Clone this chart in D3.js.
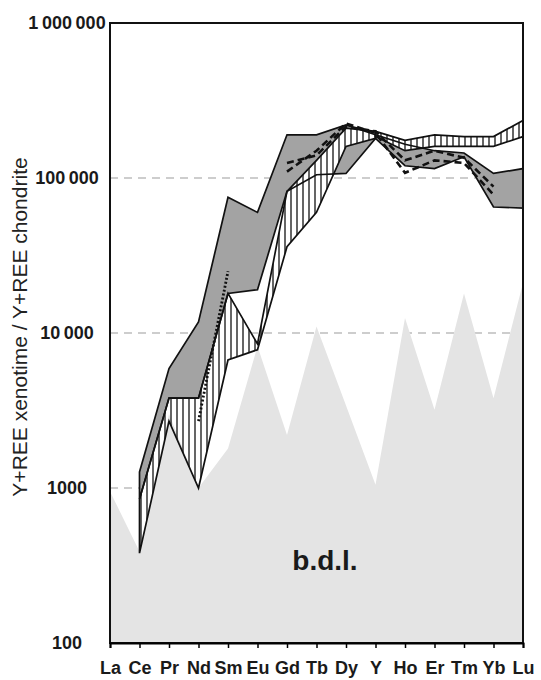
<!DOCTYPE html>
<html>
<head>
<meta charset="utf-8">
<script src="https://cdn.jsdelivr.net/npm/d3@7"></script>
<style>
  body { margin: 0; background: #fff; }
  text { font-family: "Liberation Sans", Arial, sans-serif; }
</style>
</head>
<body>
<script>
var width = 541;
var height = 680;

var elements = ['La', 'Ce', 'Pr', 'Nd', 'Sm', 'Eu', 'Gd', 'Tb', 'Dy', 'Y', 'Ho', 'Er', 'Tm', 'Yb', 'Lu'];
var yTicks = [100, 1000, 10000, 100000, 1000000];

// detection limit (b.d.l.)
var bdl = [950, 390, 3000, 1000, 1800, 8200, 2200, 11000, 3400, 1050, 12500, 3200, 18000, 3800, 21000];

// grey field
var greyUpper = [null, 1270, 5900, 11800, 75000, 60000, 190000, 190000, 220000, 190000, 165000, 150000, 145000, 107000, 115000];
var greyLower = [null, 850, 3800, 3800, 18000, 19000, 82000, 105000, 107000, 180000, 120000, 115000, 137000, 65000, 64000];

// hatched field, light REE to Y
var hatchUpper = [null, 850, 3800, 3800, 18000, 8500, 82000, 130000, 210000, 200000, null, null, null, null, null];
var hatchLower = [null, 380, 2700, 1000, 6700, 7800, 36000, 60000, 160000, 180000, null, null, null, null, null];

// hatched field, heavy REE
var heavyUpper = [null, null, null, null, null, null, null, null, null, 200000, 175000, 190000, 185000, 185000, 235000];
var heavyLower = [null, null, null, null, null, null, null, null, null, 185000, 150000, 160000, 160000, 160000, 185000];

// single analyses
var dashA = [null, null, null, null, null, null, 110000, 150000, 225000, 195000, 108000, 130000, 125000, 78000, null];
var dashB = [null, null, null, null, null, null, 125000, 140000, 215000, 200000, 130000, 150000, 135000, 88000, null];
var dotted = [null, null, null, 2700, 25000, null, null, null, null, null, null, null, null, null, null];

var x = d3.scalePoint()
    .domain(elements)
    .range([110, 523]);

var y = d3.scaleLog()
    .domain([100, 1000000])
    .range([643, 23]);

var svg = d3.select('body')
    .append('svg')
    .attr('width', width)
    .attr('height', height);

var defs = svg.append('defs');
defs.append('pattern')
    .attr('id', 'vhatch')
    .attr('patternUnits', 'userSpaceOnUse')
    .attr('width', 6)
    .attr('height', 10)
    .append('line')
    .attr('x1', 3).attr('y1', 0)
    .attr('x2', 3).attr('y2', 10)
    .attr('stroke', '#111')
    .attr('stroke-width', 1.3);

function rows(up, low) {
    return elements.map(function(e, i) {
        return { el: e, hi: up[i], lo: low ? low[i] : null };
    });
}

var band = d3.area()
    .defined(function(d) { return d.hi != null; })
    .x(function(d) { return x(d.el); })
    .y0(function(d) { return y(d.lo); })
    .y1(function(d) { return y(d.hi); });

var line = d3.line()
    .defined(function(d) { return d.hi != null; })
    .x(function(d) { return x(d.el); })
    .y(function(d) { return y(d.hi); });

// dashed grid lines
svg.append('g')
    .selectAll('line')
    .data([1000, 10000, 100000])
    .enter()
    .append('line')
    .attr('x1', 110).attr('x2', 523)
    .attr('y1', function(d) { return y(d); })
    .attr('y2', function(d) { return y(d); })
    .attr('stroke', '#bdbdbd')
    .attr('stroke-width', 1.6)
    .attr('stroke-dasharray', '8,6');

var greyRows = rows(greyUpper, greyLower);
var hatchRows = rows(hatchUpper, hatchLower);
var heavyRows = rows(heavyUpper, heavyLower);

svg.append('path')
    .attr('d', band(greyRows))
    .attr('fill', '#a3a3a3');

svg.append('path')
    .attr('d', band(hatchRows))
    .attr('fill', '#fff');

svg.append('path')
    .attr('d', band(heavyRows))
    .attr('fill', '#fff');

// b.d.l. field
var bdlArea = d3.area()
    .x(function(d) { return x(d.el); })
    .y0(y(100))
    .y1(function(d) { return y(d.hi); });

svg.append('path')
    .attr('d', bdlArea(rows(bdl)))
    .attr('fill', '#e4e4e4');

svg.append('path')
    .attr('d', band(hatchRows))
    .attr('fill', 'url(#vhatch)');

svg.append('path')
    .attr('d', band(heavyRows))
    .attr('fill', 'url(#vhatch)');

// outlines
[greyRows, hatchRows, heavyRows].forEach(function(r) {
    svg.append('path')
        .attr('d', band(r) + 'Z')
        .attr('fill', 'none')
        .attr('stroke', '#111')
        .attr('stroke-width', 1.7)
        .attr('stroke-linejoin', 'miter');
});

[dashA, dashB].forEach(function(s) {
    svg.append('path')
        .attr('d', line(rows(s)))
        .attr('fill', 'none')
        .attr('stroke', '#111')
        .attr('stroke-width', 2.6)
        .attr('stroke-dasharray', '7,4');
});

svg.append('path')
    .attr('d', line(rows(dotted)))
    .attr('fill', 'none')
    .attr('stroke', '#111')
    .attr('stroke-width', 2.8)
    .attr('stroke-dasharray', '2,2');

svg.append('text')
    .attr('x', 325)
    .attr('y', 570)
    .attr('text-anchor', 'middle')
    .attr('font-size', 28)
    .attr('font-weight', 'bold')
    .attr('fill', '#1a1a1a')
    .text('b.d.l.');

// frame
svg.append('rect')
    .attr('x', 110).attr('y', 23)
    .attr('width', 413).attr('height', 620)
    .attr('fill', 'none')
    .attr('stroke', '#111')
    .attr('stroke-width', 2);

var xAxis = svg.append('g')
    .attr('transform', 'translate(0,643)')
    .call(d3.axisBottom(x).tickSize(5).tickPadding(13));
xAxis.select('.domain').attr('stroke-width', 2);
xAxis.selectAll('line').attr('stroke-width', 1.5);
xAxis.selectAll('text')
    .attr('font-size', 18)
    .attr('font-weight', 'bold')
    .attr('fill', '#1a1a1a')
    .attr('font-family', '"Liberation Sans", Arial, sans-serif');

var yAxis = svg.append('g')
    .attr('transform', 'translate(110,0)')
    .call(d3.axisLeft(y)
        .tickValues(yTicks)
        .tickSize(0)
        .tickFormat(function(d) {
            return d >= 10000 ? d3.format(',')(d).replace(/,/g, '\u2009') : String(d);
        }));
yAxis.select('.domain').remove();
yAxis.selectAll('text')
    .attr('x', -43)
    .attr('text-anchor', 'middle')
    .attr('font-size', 18)
    .attr('font-weight', 'bold')
    .attr('fill', '#1a1a1a')
    .attr('font-family', '"Liberation Sans", Arial, sans-serif');

svg.append('text')
    .attr('transform', 'translate(27,327) rotate(-90)')
    .attr('text-anchor', 'middle')
    .attr('font-size', 21)
    .attr('fill', '#222')
    .text('Y+REE xenotime / Y+REE chondrite');
</script>
</body>
</html>
